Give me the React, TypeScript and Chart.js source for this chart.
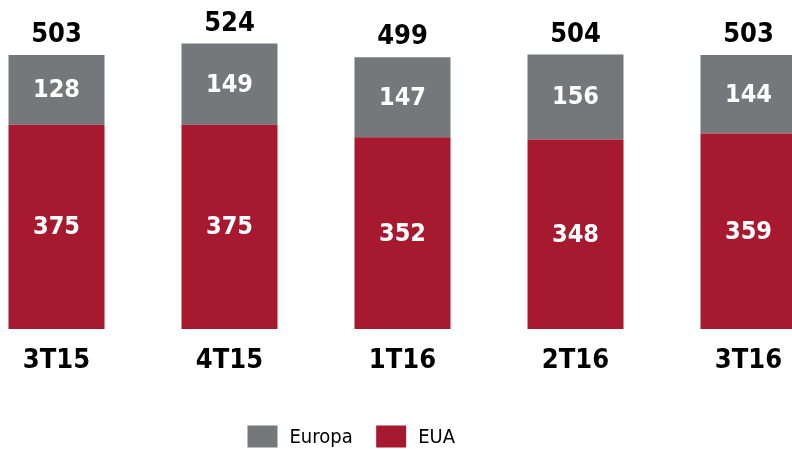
import { useEffect, useRef } from "react";
import { Chart, registerables } from "chart.js";

Chart.register(...registerables);

const categories = ["3T15", "4T15", "1T16", "2T16", "3T16"];
const europa = [128, 149, 147, 156, 144];
const eua = [375, 375, 352, 348, 359];

const GRAY = "#75787b";
const RED = "#a6192e";
const FONT = "'DejaVu Sans Condensed', 'DejaVu Sans', sans-serif";

const SHIFT = 30;
const CANVAS_W = 865;
const CANVAS_H = 449;

const valueLabels = {
  id: "valueLabels",
  afterDatasetsDraw(chart: any) {
    const ctx = chart.ctx;
    ctx.save();
    ctx.textAlign = "center";
    ctx.textBaseline = "middle";
    chart.data.datasets.forEach((ds: any, di: number) => {
      const meta = chart.getDatasetMeta(di);
      meta.data.forEach((bar: any, i: number) => {
        const v = ds.data[i];
        ctx.fillStyle = "#ffffff";
        ctx.font = `bold 25px ${FONT}`;
        ctx.fillText(String(v), bar.x, (bar.y + bar.base) / 2 + 1);
      });
    });
    const topMeta = chart.getDatasetMeta(chart.data.datasets.length - 1);
    topMeta.data.forEach((bar: any, i: number) => {
      let total = 0;
      chart.data.datasets.forEach((ds: any) => (total += ds.data[i]));
      ctx.fillStyle = "#000000";
      ctx.font = `bold 27px ${FONT}`;
      ctx.fillText(String(total), bar.x, bar.y - 20);
    });
    ctx.restore();
  },
};

const customLegend = {
  id: "customLegend",
  afterDraw(chart: any) {
    const ctx = chart.ctx;
    ctx.save();
    ctx.font = `20px ${FONT}`;
    ctx.textBaseline = "middle";
    ctx.textAlign = "left";
    let x = 247.5 + SHIFT;
    const yc = 436.5;
    const items = [...chart.data.datasets].reverse();
    items.forEach((ds: any) => {
      ctx.fillStyle = ds.backgroundColor;
      ctx.fillRect(x, yc - 11, 30, 22);
      ctx.fillStyle = "#000000";
      const tx = x + 30 + 12;
      ctx.fillText(ds.label, tx, yc + 1);
      x = tx + ctx.measureText(ds.label).width + 23.5;
    });
    ctx.restore();
  },
};

export default function App() {
  const ref = useRef<HTMLCanvasElement>(null);
  useEffect(() => {
    if (!ref.current) return;
    const chart = new Chart(ref.current, {
      type: "bar",
      data: {
        labels: categories,
        datasets: [
          { label: "EUA", data: eua, backgroundColor: RED },
          { label: "Europa", data: europa, backgroundColor: GRAY },
        ],
      },
      options: {
        animation: false,
        responsive: false,
        maintainAspectRatio: false,
        layout: { padding: { top: 0, bottom: 55.5, left: 0, right: 0 } },
        plugins: {
          legend: { display: false },
          tooltip: { enabled: false },
        },
        scales: {
          x: {
            stacked: true,
            grid: { display: false, drawTicks: false },
            border: { display: false },
            ticks: {
              color: "#000000",
              padding: 16,
              font: { family: FONT, size: 27, weight: "bold" },
            },
          },
          y: {
            stacked: true,
            display: false,
            min: 0,
            max: 604,
          },
        },
        datasets: {
          bar: { categoryPercentage: 1, barPercentage: 0.555 },
        },
      } as any,
      plugins: [valueLabels, customLegend],
    });
    return () => chart.destroy();
  }, []);
  return (
    <div
      style={{
        position: "fixed",
        left: 0,
        top: 0,
        width: 792,
        height: 449,
        overflow: "hidden",
        background: "#ffffff",
      }}
    >
      <canvas
        ref={ref}
        width={CANVAS_W}
        height={CANVAS_H}
        style={{ position: "absolute", left: -SHIFT, top: 0, width: CANVAS_W, height: CANVAS_H }}
      />
    </div>
  );
}
